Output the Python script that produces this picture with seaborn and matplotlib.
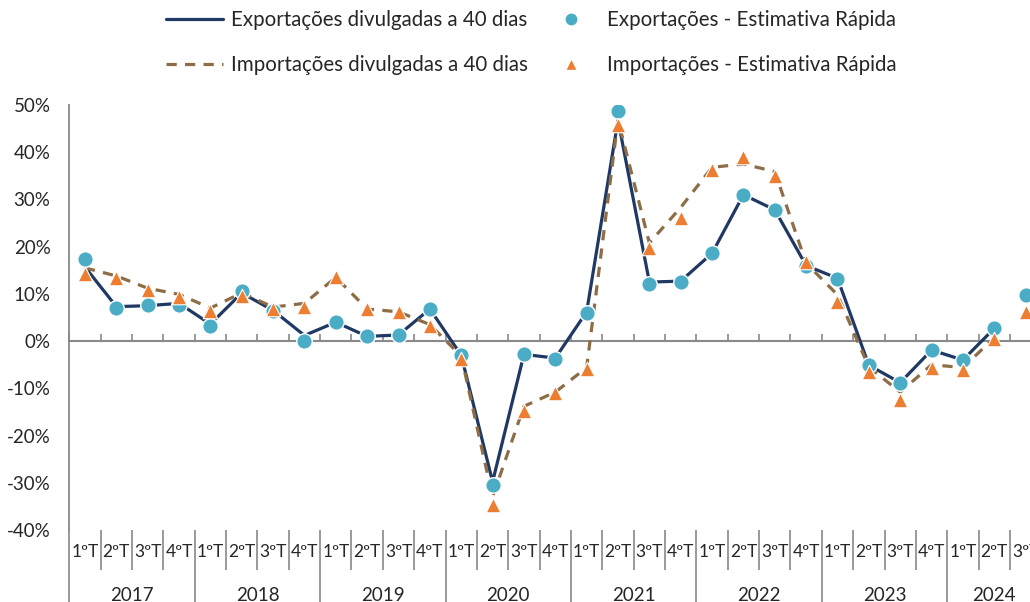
import numpy as np
import pandas as pd
import matplotlib
matplotlib.use("Agg")
import matplotlib.pyplot as plt
import seaborn as sns
from matplotlib.lines import Line2D
from matplotlib.ticker import FuncFormatter, FixedLocator

# ---------------- data ----------------
quarters = ["1ºT", "2ºT", "3ºT", "4ºT"] * 7 + ["1ºT", "2ºT", "3ºT"]
quarter_year = ["2017"] * 4 + ["2018"] * 4 + ["2019"] * 4 + ["2020"] * 4 + \
               ["2021"] * 4 + ["2022"] * 4 + ["2023"] * 4 + ["2024"] * 3
years = ["2017", "2018", "2019", "2020", "2021", "2022", "2023", "2024"]

exp_40 = [15.7, 7.3, 7.5, 8.0, 3.6, 10.2, 6.5, 1.2, 4.0, 1.0, 1.3, 6.8,
          -3.0, -29.8, -2.8, -3.6, 6.2, 46.8, 12.5, 12.7, 18.6, 31.0,
          27.8, 16.0, 13.3, -5.1, -8.8, -1.9, -4.0, 2.7, np.nan]
exp_fast = [17.3, 7.0, 7.6, 7.6, 3.2, 10.6, 6.4, 0.1, 4.0, 1.1, 1.4, 6.8,
            -3.0, -30.4, -2.8, -3.8, 5.9, 48.8, 12.2, 12.6, 18.6, 31.0,
            27.8, 15.9, 13.2, -5.1, -8.8, -1.9, -4.1, 2.8, 9.7]
imp_40 = [15.5, 13.8, 11.2, 9.9, 7.0, 10.2, 7.2, 8.0, 13.5, 6.8, 6.2, 3.5,
          -3.2, -33.0, -13.8, -10.8, -5.6, 46.8, 20.8, 28.3, 36.8, 37.5,
          35.9, 16.5, 9.8, -5.5, -10.8, -5.0, -5.6, 0.7, np.nan]
imp_fast = [14.3, 13.3, 10.8, 9.4, 6.4, 9.6, 6.7, 7.3, 13.5, 6.7, 6.2, 3.2,
            -3.7, -34.6, -14.8, -10.9, -6.0, 45.8, 19.7, 26.1, 36.2, 38.9,
            35.0, 16.8, 8.3, -6.5, -12.5, -5.6, -6.2, 0.4, 6.2]

labels = ["Exportações divulgadas a 40 dias", "Importações divulgadas a 40 dias",
          "Exportações - Estimativa Rápida", "Importações - Estimativa Rápida"]

# ---------------- style ----------------
sns.set_style("white")
plt.rcParams['font.family'] = ['Lato', 'DejaVu Sans']

C_EXP_LINE = "#203864"
C_IMP_LINE = "#8C6D46"
C_EXP_DOT = "#4BACC6"
C_IMP_TRI = "#ED7D31"
C_AXIS = "#898989"
C_TEXT = "#262626"

n = len(quarters)
xpos = np.arange(n) + 0.5
df = pd.DataFrame({
    "x": xpos, "year": quarter_year,
    "exp_40": exp_40, "exp_fast": exp_fast,
    "imp_40": imp_40, "imp_fast": imp_fast,
})

fig = plt.figure(figsize=(10.30, 6.02), dpi=100)
ax = fig.add_axes([69.3 / 1030, 72 / 602, 972 / 1030, 425 / 602])

sns.lineplot(data=df, x="x", y="exp_40", ax=ax, color=C_EXP_LINE, lw=2.3,
             zorder=2)
sns.lineplot(data=df, x="x", y="imp_40", ax=ax, color=C_IMP_LINE, lw=2.3,
             linestyle=(0, (3.2, 2.6)), zorder=2)
sns.scatterplot(data=df, x="x", y="exp_fast", ax=ax, marker="o", s=125,
                color=C_EXP_DOT, edgecolor="white", linewidth=1.0, zorder=3)
sns.scatterplot(data=df, x="x", y="imp_fast", ax=ax, marker="^", s=110,
                color=C_IMP_TRI, edgecolor="white", linewidth=0.8, zorder=4)

ax.set_xlim(0, n)
ax.set_ylim(-40, 50)
ax.set_xlabel("")
ax.set_ylabel("")

# y axis
ax.yaxis.set_major_locator(FixedLocator(np.arange(-40, 51, 10)))
ax.yaxis.set_major_formatter(FuncFormatter(lambda v, p: f"{v:.0f}%"))
ax.tick_params(axis="y", left=False, length=0, pad=13.5, labelsize=13.5,
               labelcolor=C_TEXT)
for s in ["top", "right", "bottom"]:
    ax.spines[s].set_visible(False)
ax.spines["left"].set_color(C_AXIS)
ax.spines["left"].set_linewidth(1.3)

# category axis: separators between quarters / years
year_bounds = np.arange(0, n + 1, 4)
q_bounds = [b for b in range(n + 1) if b % 4 != 0]
ax.xaxis.set_major_locator(FixedLocator(year_bounds))
ax.xaxis.set_minor_locator(FixedLocator(q_bounds))
ax.tick_params(axis="x", which="major", bottom=True, direction="out",
               length=54, width=1.2, color=C_AXIS, labelbottom=False)
ax.tick_params(axis="x", which="minor", bottom=True, direction="out",
               length=29, width=1.2, color=C_AXIS, labelbottom=False)

trans = ax.get_xaxis_transform()
for xi, q in zip(xpos, quarters):
    ax.text(xi, -0.052, q, transform=trans, ha="center", va="center",
            fontsize=12.5, color=C_TEXT, clip_on=False)
year_centers = df.groupby("year", sort=False)["x"].mean()
for y in years:
    ax.text(year_centers[y], -0.153, y, transform=trans, ha="center",
            va="center", fontsize=13.5, color=C_TEXT, clip_on=False)

# zero line with small tick marks
sec = ax.secondary_xaxis(40 / 90)
sec.xaxis.set_major_locator(FixedLocator(np.arange(0, n + 1)))
sec.tick_params(axis="x", which="both", bottom=True, top=False,
                direction="in", length=5, width=1.2, color=C_AXIS,
                labelbottom=False, labeltop=False)
for s in sec.spines.values():
    s.set_color(C_AXIS)
    s.set_linewidth(1.5)

# legend
handles = [
    Line2D([], [], color=C_EXP_LINE, lw=2.3),
    Line2D([], [], color=C_IMP_LINE, lw=2.3, linestyle=(0, (3.2, 2.6))),
    Line2D([], [], color=C_EXP_DOT, marker="o", linestyle="none",
           markersize=9.5, markeredgecolor="white"),
    Line2D([], [], color=C_IMP_TRI, marker="^", linestyle="none",
           markersize=8.5, markeredgecolor="white"),
]
fig.legend(handles, labels, ncol=2, loc="center", frameon=False,
           bbox_to_anchor=(531 / 1030, 1 - 42.5 / 602), fontsize=14.8,
           handlelength=2.8, handletextpad=0.35, columnspacing=0.7,
           labelspacing=1.2, labelcolor=C_TEXT)

fig.savefig("out.png", dpi=100)
